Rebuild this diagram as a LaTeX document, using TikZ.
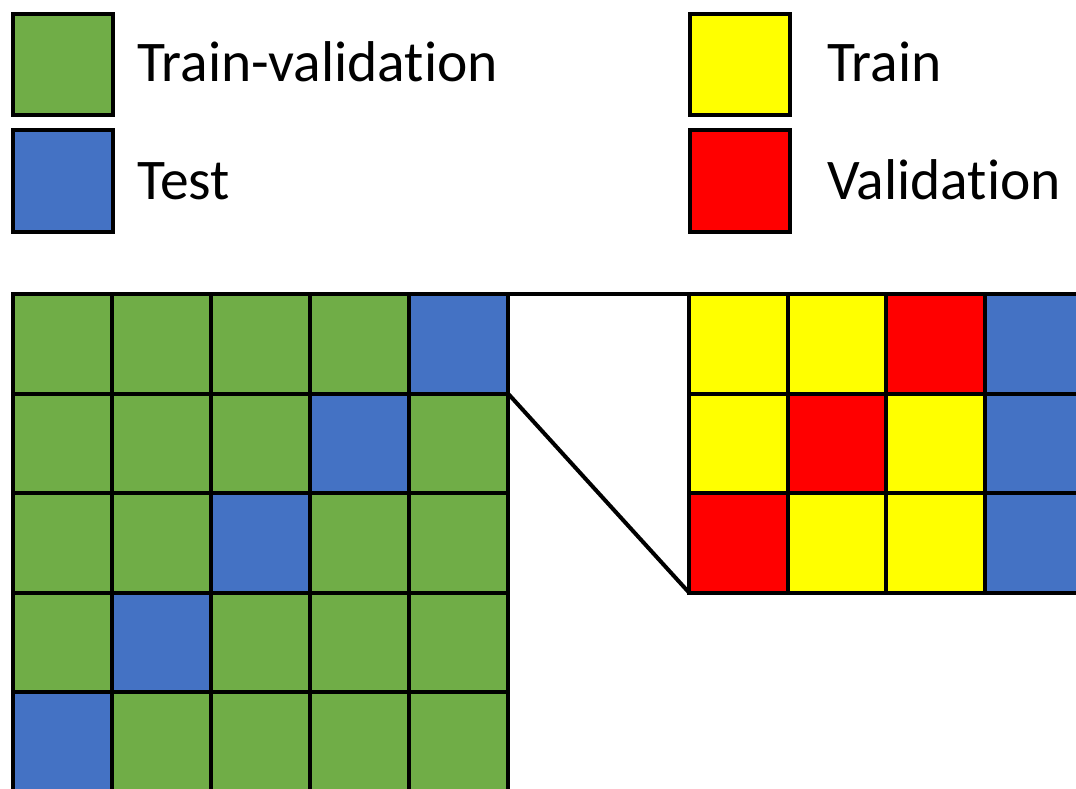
\documentclass[tikz,border=0pt]{standalone}
\usepackage{fontspec}
\setmainfont{Carlito}[RawFeature={-liga;-clig;-dlig;-calt}]

\definecolor{trainval}{HTML}{70AD47}
\definecolor{testblue}{HTML}{4472C4}
\definecolor{trainyel}{HTML}{FFFF00}
\definecolor{validred}{HTML}{FF0000}

% keep t and i apart
\newcommand{\tsep}{\kern0pt}

\tikzset{
  cell/.style={draw=black, line width=4pt, rectangle, inner sep=0pt, outer sep=0pt,
    minimum width=99pt, minimum height=99.5pt},
  legendbox/.style={draw=black, line width=4pt, rectangle, inner sep=0pt,
    minimum width=100pt, minimum height=101pt},
  legendtext/.style={anchor=base west, inner sep=0pt,
    font=\fontsize{57.5}{68}\selectfont},
}

\begin{document}
\begin{tikzpicture}[x=1pt, y=-1pt]
        \useasboundingbox (0,0) rectangle (1076,789);
        \clip (0,0) rectangle (1076,789);

        % legend
        \node[legendbox, fill=trainval] (lg-trainval) at (63,64.5) {};
        \node[legendbox, fill=testblue] (lg-test) at (63,181) {};
        \node[legendbox, fill=trainyel] (lg-train) at (739.5,64.5) {};
        \node[legendbox, fill=validred] (lg-valid) at (739.5,181) {};
        \node[legendtext] (txt-trainval) at (137,82) {Train-validat\tsep ion};
        \node[legendtext] (txt-test) at (137,199) {Test};
        \node[legendtext] (txt-train) at (827,82) {Train};
        \node[legendtext] (txt-valid) at (827,199) {Validat\tsep ion};

        % outer folds
          \foreach \r in {0,...,4}
          {
              \foreach \c in {0,...,4}
              {
                \pgfmathtruncatemacro{\d}{\r+\c}
                \ifnum\d=4 \def\fc{testblue}\else \def\fc{trainval}\fi
                \node[cell, fill=\fc] (L-\r-\c) at ({62.5+99*\c},{343.8+99.5*\r}) {};
              }
          }

        % inner folds
          \foreach \r in {0,1,2}
          {
              \foreach \c in {0,...,3}
              {
                \pgfmathtruncatemacro{\d}{\r+\c}
                \ifnum\c=3 \def\fc{testblue}\else
                  \ifnum\d=2 \def\fc{validred}\else \def\fc{trainyel}\fi
                \fi
                \node[cell, fill=\fc] (R-\r-\c) at ({738.5+98.5*\c},{343.8+99.5*\r}) {};
              }
          }

        % zoom lines
        \draw[line width=4pt] (L-0-4.north east) -- (R-0-0.north west);
        \draw[line width=4pt] (L-0-4.south east) -- (R-2-0.south west);
    \end{tikzpicture}
\end{document}
